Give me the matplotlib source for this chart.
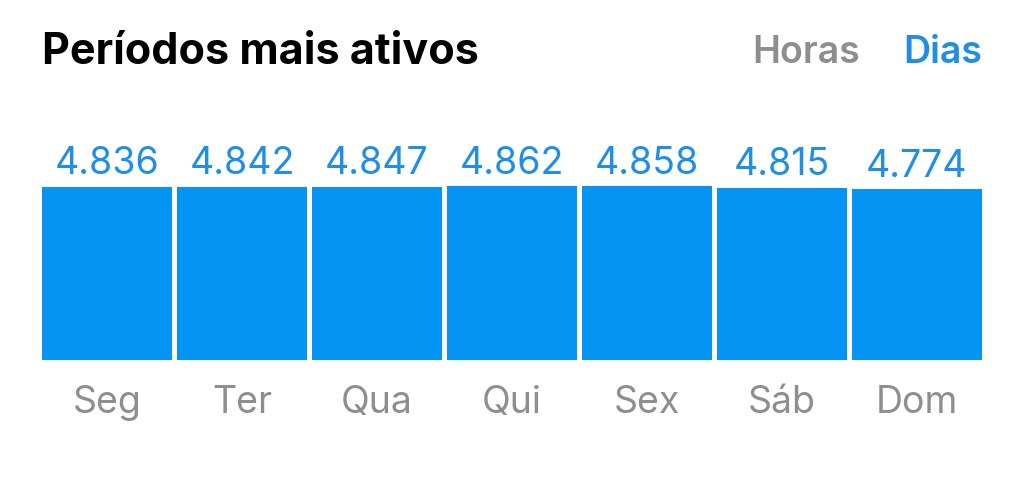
import matplotlib.pyplot as plt

days = ["Seg", "Ter", "Qua", "Qui", "Sex", "Sáb", "Dom"]
values = [4.836, 4.842, 4.847, 4.862, 4.858, 4.815, 4.774]
value_labels = ["4.836", "4.842", "4.847", "4.862", "4.858", "4.815", "4.774"]

bar_color = "#0593F4"
label_blue = "#1F8EE6"
gray = "#8E8E8E"

plt.rcParams['font.family'] = ['Inter', 'DejaVu Sans']

W, H = 1024, 492
fig = plt.figure(figsize=(W / 100, H / 100), dpi=100)

# axes spans exactly the bar block: x 42..982 px, baseline at y=360 px
ymax = 5.0
ax_h = 174 * ymax / max(values)
ax = fig.add_axes([42 / W, 1 - 360 / H, 940 / W, ax_h / H])

width = 130 / 135
x = list(range(len(days)))
ax.bar(x, values, width=width, color=bar_color)
ax.set_xlim(-width / 2, len(days) - 1 + width / 2)
ax.set_ylim(0, ymax)

for xi, v, lab in zip(x, values, value_labels):
    ax.annotate(lab, (xi, v), xytext=(0, 9), textcoords='offset points',
                ha='center', va='baseline', fontsize=27, color=label_blue)

ax.set_xticks(x)
ax.set_xticklabels(days, fontsize=27, color=gray)
ax.tick_params(axis='x', length=0, pad=18)
ax.set_yticks([])
for s in ax.spines.values():
    s.set_visible(False)

fig.text(42 / W, 1 - 64 / H, "Períodos mais ativos", fontsize=31,
         fontweight='bold', color='black', ha='left', va='baseline')
fig.text(752 / W, 1 - 63 / H, "Horas", fontsize=27, fontweight='semibold',
         color=gray, ha='left', va='baseline')
fig.text(982 / W, 1 - 63 / H, "Dias", fontsize=27, fontweight='semibold',
         color=label_blue, ha='right', va='baseline')

fig.savefig("out.png", dpi=100, facecolor='white')
